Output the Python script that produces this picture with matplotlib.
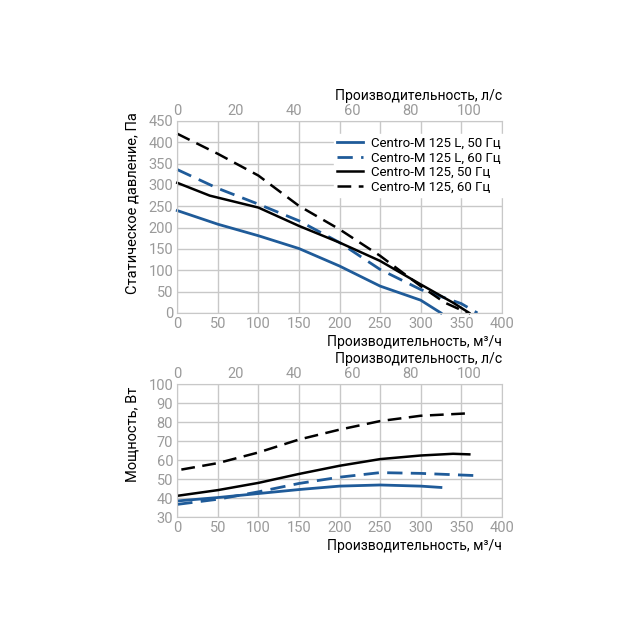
import matplotlib.pyplot as plt

plt.rcParams['font.family'] = ['Roboto', 'DejaVu Sans']

BLUE = '#1f5b99'
GRID = '#c8c8c8'
TICK = '#9a9a9a'

# Давление, Па
q_L50 = [0, 50, 100, 150, 200, 250, 300, 325]
p_L50 = [240, 208, 181, 151, 110, 63, 30, 0]
q_L60 = [0, 50, 100, 150, 200, 250, 300, 350, 370]
p_L60 = [336, 292, 255, 216, 165, 102, 55, 22, 0]
q_50 = [0, 40, 100, 150, 200, 250, 300, 340, 360]
p_50 = [305, 275, 247, 204, 165, 122, 67, 24, 0]
q_60 = [0, 50, 100, 150, 200, 250, 300, 330, 358]
p_60 = [420, 373, 322, 251, 196, 134, 63, 24, 0]

# Мощность, Вт
w_q_L50 = [0, 50, 100, 150, 200, 250, 300, 325]
w_L50 = [38.5, 40.3, 42.4, 44.5, 46.3, 46.9, 46.3, 45.6]
w_q_L60 = [0, 50, 100, 150, 200, 250, 300, 370]
w_L60 = [36.7, 39.4, 43.3, 47.7, 51.0, 53.4, 53.0, 51.8]
w_q_50 = [0, 50, 100, 150, 200, 250, 300, 340, 360]
w_50 = [41.2, 44.2, 48.0, 52.7, 57.0, 60.5, 62.4, 63.3, 63.0]
w_q_60 = [5, 50, 100, 150, 200, 250, 300, 360]
w_60 = [55.0, 58.4, 64.0, 70.8, 76.0, 80.5, 83.3, 84.6]

labels = ['Centro-M 125 L, 50 Гц', 'Centro-M 125 L, 60 Гц',
          'Centro-M 125, 50 Гц', 'Centro-M 125, 60 Гц']

DASH = (0, (5.5, 3))


def style_axes(ax, ylim, yticks):
    ax.set_xlim(0, 400)
    ax.set_ylim(*ylim)
    ax.set_xticks(range(0, 401, 50))
    ax.set_yticks(yticks)
    ax.grid(True, color=GRID, linewidth=1)
    ax.set_axisbelow(True)
    for s in ax.spines.values():
        s.set_color(GRID)
    ax.tick_params(colors=TICK, labelsize=10.5, length=0, pad=3)
    ax.set_xlabel('Производительность, м³/ч', fontsize=10, loc='right', labelpad=3)
    sec = ax.secondary_xaxis('top', functions=(lambda x: x / 3.6, lambda x: x * 3.6))
    sec.set_xticks(range(0, 101, 20))
    sec.tick_params(colors=TICK, labelsize=10.5, length=0, pad=2)
    sec.spines['top'].set_visible(False)
    sec.set_xlabel('Производительность, л/с', fontsize=10, loc='right', labelpad=3)
    return sec


fig = plt.figure(figsize=(6.4, 6.4), dpi=100)
ax1 = fig.add_axes([0.277, 0.511, 0.507, 0.300])
ax2 = fig.add_axes([0.277, 0.192, 0.507, 0.208])

ax1.plot(q_L50, p_L50, color=BLUE, lw=2, label=labels[0], clip_on=False)
ax1.plot(q_L60, p_L60, color=BLUE, lw=2, ls=DASH, label=labels[1], clip_on=False)
ax1.plot(q_50, p_50, color='black', lw=1.8, label=labels[2], clip_on=False)
ax1.plot(q_60, p_60, color='black', lw=1.8, ls=DASH, label=labels[3], clip_on=False)
style_axes(ax1, (0, 450), range(0, 451, 50))
ax1.set_ylabel('Статическое давление, Па', fontsize=10.5, labelpad=4)
ax1.yaxis.set_label_coords(-0.115, 0.57)
leg = ax1.legend(loc='upper right', bbox_to_anchor=(1.02, 0.955), fontsize=9.5,
                 frameon=True, fancybox=False, borderpad=0.25, labelspacing=0.12,
                 handlelength=2.0, handletextpad=0.6, borderaxespad=0.3)
leg.get_frame().set_facecolor('white')
leg.get_frame().set_edgecolor('white')
leg.get_frame().set_alpha(1)

ax2.plot(w_q_L50, w_L50, color=BLUE, lw=2)
ax2.plot(w_q_L60, w_L60, color=BLUE, lw=2, ls=DASH)
ax2.plot(w_q_50, w_50, color='black', lw=1.8)
ax2.plot(w_q_60, w_60, color='black', lw=1.8, ls=DASH)
style_axes(ax2, (30, 100), range(30, 101, 10))
ax2.set_ylabel('Мощность, Вт', fontsize=10.5, labelpad=4)
ax2.yaxis.set_label_coords(-0.115, 0.62)

fig.savefig('out.png', dpi=100)
